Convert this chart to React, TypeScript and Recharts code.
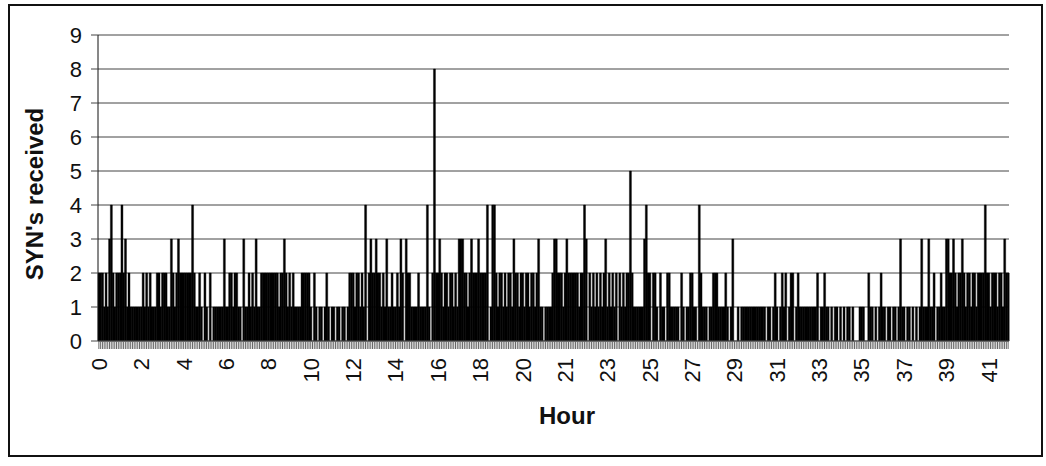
import React from 'react';
import { BarChart, Bar, XAxis, YAxis, CartesianGrid, Label } from 'recharts';

// Tick labels shown every BARS_PER_LABEL samples (hour of the sample)
const hourLabels = ['0', '2', '4', '6', '8', '10', '12', '14', '16', '18', '20', '21', '23', '25', '27', '29', '31', '33', '35', '37', '39', '41'];
const BARS_PER_LABEL = 24;

// SYN's received per sample, grouped by labelled block
const block00 = [2, 2, 2, 1, 2, 1, 3, 4, 2, 1, 2, 2, 2, 4, 2, 3, 1, 2, 1, 1, 1, 1, 1, 1];
const block02 = [1, 2, 1, 2, 1, 2, 1, 1, 1, 2, 2, 1, 2, 2, 2, 1, 1, 3, 2, 1, 2, 3, 2, 2];
const block04 = [2, 2, 2, 2, 2, 4, 2, 1, 1, 2, 1, 0, 2, 1, 0, 2, 0, 1, 1, 1, 1, 1, 1, 3];
const block06 = [1, 1, 2, 2, 1, 2, 2, 1, 1, 0, 3, 1, 1, 2, 1, 2, 1, 3, 1, 1, 2, 2, 2, 2];
const block08 = [2, 2, 2, 2, 2, 2, 1, 2, 2, 3, 2, 1, 2, 1, 2, 1, 1, 1, 1, 2, 2, 2, 2, 2];
const block10 = [1, 0, 2, 1, 0, 1, 1, 0, 1, 2, 1, 0, 1, 1, 0, 1, 1, 0, 1, 1, 0, 1, 2, 2];
const block12 = [2, 1, 2, 2, 1, 2, 1, 4, 0, 2, 3, 2, 2, 3, 2, 2, 1, 2, 1, 3, 1, 1, 2, 1];
const block14 = [1, 2, 1, 3, 2, 0, 3, 2, 2, 1, 1, 1, 1, 2, 1, 1, 1, 1, 4, 1, 0, 2, 8, 2];
const block16 = [2, 3, 2, 1, 2, 2, 1, 2, 2, 1, 2, 1, 3, 3, 3, 2, 2, 1, 2, 3, 2, 2, 2, 3];
const block18 = [2, 2, 2, 2, 4, 0, 1, 4, 4, 2, 1, 2, 2, 1, 2, 1, 2, 2, 1, 3, 2, 2, 1, 2];
const block20 = [2, 1, 2, 2, 1, 2, 2, 1, 2, 3, 1, 1, 0, 1, 1, 1, 1, 2, 3, 3, 2, 2, 2, 1];
const block21 = [2, 3, 2, 2, 2, 2, 2, 2, 1, 2, 2, 4, 3, 0, 2, 1, 2, 1, 2, 1, 2, 1, 2, 3];
const block23 = [1, 2, 1, 2, 1, 2, 0, 2, 1, 2, 1, 2, 2, 5, 2, 1, 1, 1, 1, 1, 1, 3, 4, 2];
const block25 = [2, 0, 2, 2, 1, 0, 2, 1, 1, 0, 2, 2, 1, 1, 1, 1, 1, 0, 2, 1, 0, 1, 1, 2];
const block27 = [2, 1, 1, 0, 4, 2, 1, 1, 1, 0, 1, 1, 2, 2, 2, 1, 1, 1, 1, 2, 1, 0, 1, 3];
const block29 = [0, 0, 1, 0, 1, 1, 1, 1, 1, 1, 1, 1, 1, 1, 1, 1, 1, 1, 0, 1, 1, 0, 1, 2];
const block31 = [1, 0, 1, 2, 1, 2, 0, 1, 2, 2, 0, 1, 2, 1, 1, 1, 1, 1, 1, 1, 1, 1, 1, 2];
const block33 = [0, 1, 1, 2, 1, 1, 0, 1, 0, 1, 1, 0, 1, 0, 1, 0, 1, 1, 0, 1, 0, 0, 0, 1];
const block35 = [1, 1, 0, 0, 2, 1, 1, 0, 1, 0, 1, 2, 1, 1, 0, 1, 1, 0, 1, 1, 0, 1, 3, 1];
const block37 = [1, 0, 1, 1, 0, 1, 0, 1, 0, 1, 3, 1, 1, 1, 3, 1, 1, 2, 0, 1, 1, 2, 1, 1];
const block39 = [3, 3, 2, 2, 3, 2, 1, 2, 2, 3, 2, 1, 2, 2, 1, 2, 2, 1, 2, 2, 2, 2, 4, 2];
const block41 = [2, 1, 2, 2, 2, 1, 2, 2, 1, 3, 2, 2];

const blocks = [block00, block02, block04, block06, block08, block10, block12, block14, block16, block18, block20,
  block21, block23, block25, block27, block29, block31, block33, block35, block37, block39, block41];

const yTicks = [0, 1, 2, 3, 4, 5, 6, 7, 8, 9];

const data = blocks.flat().map((v, i) => ({ i, syn: v }));

const FONT = '"Liberation Sans", Arial, Helvetica, sans-serif';

function HourTick(props: any) {
  const { x, y, payload } = props;
  const idx = payload.value as number;
  if (idx % BARS_PER_LABEL !== 0) return null;
  const label = hourLabels[idx / BARS_PER_LABEL];
  if (label === undefined) return null;
  return (
    <text
      x={x}
      y={y}
      transform={`rotate(-90 ${x} ${y})`}
      textAnchor="end"
      dy="0.36em"
      fontSize={22}
      fontFamily={FONT}
      fill="#111"
    >
      {label}
    </text>
  );
}

export default function App() {
  return (
    <div style={{ position: 'absolute', left: 0, top: 0, width: 1046, height: 466, background: '#fff' }}>
      <div
        style={{
          position: 'absolute',
          left: 8,
          top: 4,
          width: 1031,
          height: 449,
          border: '2px solid #111',
        }}
      />
      <div style={{ position: 'absolute', left: 0, top: 0 }}>
        <BarChart
          width={1046}
          height={466}
          data={data}
          margin={{ top: 35, right: 37, bottom: 0, left: 38 }}
          barCategoryGap={0}
          barGap={0}
        >
          <CartesianGrid horizontal vertical={false} stroke="#444" strokeWidth={1} />
          <XAxis
            dataKey="i"
            type="category"
            interval={0}
            height={125}
            tick={HourTick}
            tickSize={8}
            tickMargin={9}
            tickLine={{ stroke: '#666', strokeWidth: 1 }}
            axisLine={{ stroke: '#555' }}
          >
            <Label
              content={() => (
                <text x={567} y={424} textAnchor="middle" fontSize={24} fontWeight="bold" fontFamily={FONT} fill="#111">
                  Hour
                </text>
              )}
            />
          </XAxis>
          <YAxis
            domain={[0, 9]}
            ticks={yTicks}
            interval={0}
            width={60}
            tickSize={7}
            tickMargin={9}
            tick={{ fontSize: 22, fontFamily: FONT, fill: '#111' }}
            tickLine={{ stroke: '#444' }}
            axisLine={{ stroke: '#111' }}
          >
            <Label
              content={() => (
                <text
                  x={34}
                  y={194}
                  transform="rotate(-90 34 194)"
                  textAnchor="middle"
                  dominantBaseline="central"
                  fontSize={24}
                  fontWeight="bold"
                  fontFamily={FONT}
                  fill="#111"
                >
                  SYN's received
                </text>
              )}
            />
          </YAxis>
          <Bar dataKey="syn" fill="#000" stroke="#000" strokeWidth={0.4} isAnimationActive={false} />
        </BarChart>
      </div>
    </div>
  );
}
